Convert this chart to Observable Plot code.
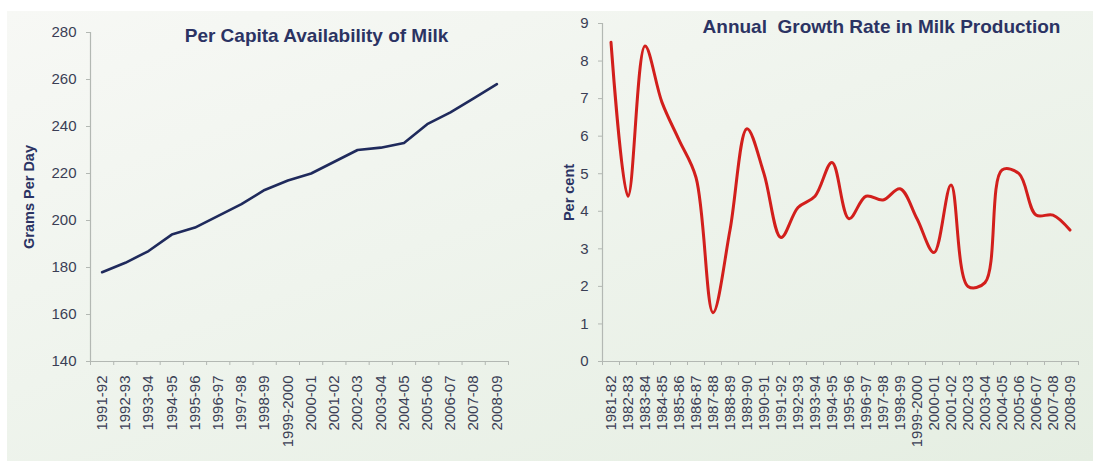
<!DOCTYPE html>
<html>
<head>
<meta charset="utf-8">
<script src="https://cdn.jsdelivr.net/npm/d3@7"></script>
<script src="https://cdn.jsdelivr.net/npm/@observablehq/plot@0.6"></script>
<style>
  html, body { margin: 0; padding: 0; background: #ffffff; }
  #wrap { position: relative; width: 1093px; height: 461px; background: #ffffff; overflow: hidden; }
  #bg { position: absolute; left: 7px; top: 11px; right: 0; bottom: 0;
        background: linear-gradient(160deg, #f7f8f5 0%, #eff4ed 45%, #e5eee2 100%); }
  #left, #right { position: absolute; top: 0; }
  #left { left: 0; }
  #right { left: 545px; }
</style>
</head>
<body>
<div id="wrap">
  <div id="bg"></div>
  <div id="left"></div>
  <div id="right"></div>
</div>
<script>
// ---- Left chart data ----
const yearsLeft = ["1991-92","1992-93","1993-94","1994-95","1995-96","1996-97","1997-98","1998-99","1999-2000","2000-01","2001-02","2002-03","2003-04","2004-05","2005-06","2006-07","2007-08","2008-09"];
const perCapita = [178,182,187,194,197,202,207,213,217,220,225,230,231,233,241,246,252,258];
const yTicksLeft = [140,160,180,200,220,240,260,280];
const titleLeft = "Per Capita Availability of Milk";
const yLabelLeft = "Grams Per Day";

// ---- Right chart data ----
const yearsRight = ["1981-82","1982-83","1983-84","1984-85","1985-86","1986-87","1987-88","1988-89","1989-90","1990-91","1991-92","1992-93","1993-94","1994-95","1995-96","1996-97","1997-98","1998-99","1999-2000","2000-01","2001-02","2002-03","2003-04","2004-05","2005-06","2006-07","2007-08","2008-09"];
const growth = [8.5,4.4,8.4,6.9,5.9,4.9,1.3,3.5,6.2,5.0,3.3,4.1,4.4,5.3,3.8,4.4,4.3,4.6,3.8,2.9,4.7,2.0,2.1,5.1,5.0,3.9,3.9,3.5];
const yTicksRight = [0,1,2,3,4,5,6,7,8,9];
const titleRight = "Annual  Growth Rate in Milk Production";
const yLabelRight = "Per cent";

const font = "'Liberation Sans', Arial, Helvetica, sans-serif";
const style = { background: "transparent", fontFamily: font, overflow: "visible" };
const axisGray = "#b3b8b3";
const tickText = "#3a3e55";
const navy = "#2b3363";

function chart({labels, values, yTicks, title, yLabel, width, marginLeft, marginRight, marginTop,
                lineColor, lineWidth, curve, titleDx, titleDy, yLabelDx}) {
  const n = labels.length;
  const rows = labels.map((label, i) => ({i, label, v: values[i]}));
  const xDomain = [-0.5, n - 0.5];
  const yDomain = [yTicks[0], yTicks[yTicks.length - 1]];
  const centers = d3.range(n);
  const bounds = d3.range(n + 1).map(i => i - 0.5);
  return Plot.plot({
    width, height: 461,
    marginLeft, marginRight, marginTop, marginBottom: 100,
    style,
    x: {domain: xDomain},
    y: {domain: yDomain},
    marks: [
      Plot.ruleY([yDomain[0]], {stroke: axisGray, strokeWidth: 1.2}),
      Plot.ruleX([xDomain[0]], {stroke: axisGray, strokeWidth: 1.2}),
      Plot.axisY({ticks: yTicks, tickSize: 4, tickPadding: 10, fontSize: 15, stroke: axisGray, fill: tickText, label: null}),
      Plot.axisX({ticks: bounds, tickSize: 4, tickFormat: () => "", stroke: axisGray, label: null}),
      Plot.axisX({ticks: centers, tickSize: 0, tickPadding: 14, tickRotate: -90, fontSize: 15,
                  tickFormat: i => labels[i], fill: tickText, label: null}),
      Plot.line(rows, {x: "i", y: "v", stroke: lineColor, strokeWidth: lineWidth, curve,
                       strokeLinejoin: "round", strokeLinecap: "round"}),
      Plot.text([title], {frameAnchor: "top", dx: titleDx, dy: titleDy, fontSize: 19, fontWeight: "bold", fill: navy}),
      Plot.text([yLabel], {frameAnchor: "left", textAnchor: "middle", dx: yLabelDx, rotate: -90, fontSize: 14.5, fontWeight: "bold", fill: navy})
    ]
  });
}

document.getElementById("left").append(chart({
  labels: yearsLeft, values: perCapita, yTicks: yTicksLeft, title: titleLeft, yLabel: yLabelLeft,
  width: 545, marginLeft: 90, marginRight: 37, marginTop: 32,
  lineColor: "#1f2a5c", lineWidth: 2.6, curve: "linear", titleDx: 17, titleDy: -4, yLabelDx: -61
}));

document.getElementById("right").append(chart({
  labels: yearsRight, values: growth, yTicks: yTicksRight, title: titleRight, yLabel: yLabelRight,
  width: 548, marginLeft: 57, marginRight: 15, marginTop: 23,
  lineColor: "#d21f1c", lineWidth: 3, curve: "catmull-rom", titleDx: 41, titleDy: -4, yLabelDx: -33
}));
</script>
</body>
</html>
